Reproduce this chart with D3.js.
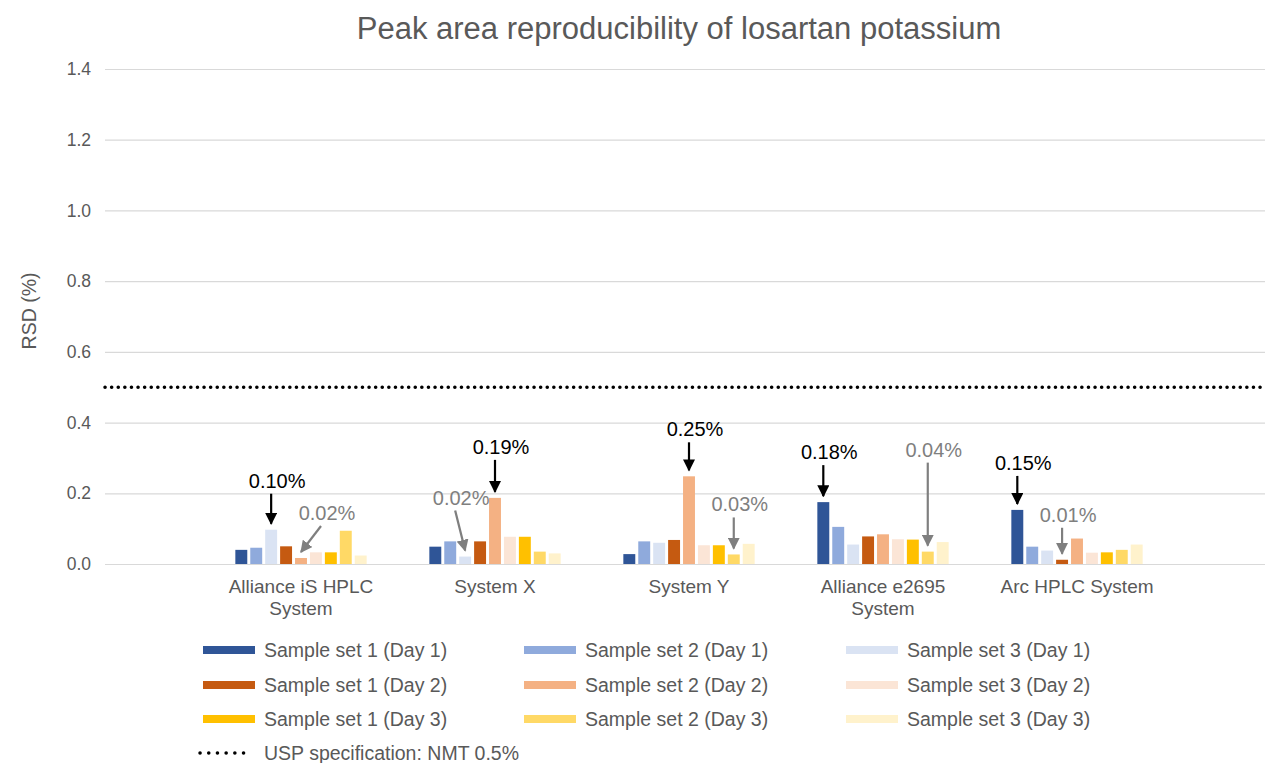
<!DOCTYPE html>
<html>
<head>
<meta charset="utf-8">
<script src="https://cdn.jsdelivr.net/npm/d3@7"></script>
<style>
  body { margin: 0; background: #fff; }
  svg { font-family: "Liberation Sans", Arial, sans-serif; }
</style>
</head>
<body>
<svg width="1265" height="763"></svg>
<script>
// categories and series
var systems = ['Alliance iS HPLC System', 'System X', 'System Y', 'Alliance e2695 System', 'Arc HPLC System'];
var systemLines = [['Alliance iS HPLC', 'System'], ['System X'], ['System Y'], ['Alliance e2695', 'System'], ['Arc HPLC System']];
var seriesNames = [
  'Sample set 1 (Day 1)', 'Sample set 2 (Day 1)', 'Sample set 3 (Day 1)',
  'Sample set 1 (Day 2)', 'Sample set 2 (Day 2)', 'Sample set 3 (Day 2)',
  'Sample set 1 (Day 3)', 'Sample set 2 (Day 3)', 'Sample set 3 (Day 3)'
];
var seriesColors = ['#2f5597', '#8faadc', '#dae3f3', '#c55a11', '#f4b183', '#fbe5d6', '#ffc000', '#ffd966', '#fff2cc'];

// RSD (%) per system, one value per series
var rsdAllianceIS = [0.040, 0.046, 0.097, 0.050, 0.017, 0.033, 0.033, 0.094, 0.024];
var rsdSystemX    = [0.049, 0.064, 0.021, 0.064, 0.187, 0.077, 0.077, 0.035, 0.030];
var rsdSystemY    = [0.028, 0.064, 0.060, 0.068, 0.248, 0.053, 0.053, 0.027, 0.057];
var rsdE2695      = [0.175, 0.105, 0.055, 0.078, 0.084, 0.070, 0.069, 0.035, 0.062];
var rsdArc        = [0.153, 0.049, 0.038, 0.012, 0.072, 0.032, 0.033, 0.040, 0.055];
var rsdValues = [rsdAllianceIS, rsdSystemX, rsdSystemY, rsdE2695, rsdArc];

var yTicks = [0, 0.2, 0.4, 0.6, 0.8, 1.0, 1.2, 1.4];
var uspLimit = 0.5;

// max / min callouts: system index, series index, label
var callouts = [
  {sys: 0, ser: 2, text: '0.10%', kind: 'max'},
  {sys: 0, ser: 4, text: '0.02%', kind: 'min'},
  {sys: 1, ser: 4, text: '0.19%', kind: 'max'},
  {sys: 1, ser: 2, text: '0.02%', kind: 'min'},
  {sys: 2, ser: 4, text: '0.25%', kind: 'max'},
  {sys: 2, ser: 7, text: '0.03%', kind: 'min'},
  {sys: 3, ser: 0, text: '0.18%', kind: 'max'},
  {sys: 3, ser: 7, text: '0.04%', kind: 'min'},
  {sys: 4, ser: 0, text: '0.15%', kind: 'max'},
  {sys: 4, ser: 3, text: '0.01%', kind: 'min'}
];
// arrow start relative to arrow tip [dx, dy]
var calloutArrow = [[0, -30], [20, -26], [0, -32], [-10, -40], [0, -28], [0, -31], [0, -31], [0, -83], [0, -28], [0, -26]];

var svg = d3.select('svg');
var left = 105, right = 1265;

var y = d3.scaleLinear().domain([0, 1.4]).range([564, 69]);
var x0 = d3.scaleBand().domain(systems).range([204, 1174]);
var x1 = d3.scaleBand().domain(d3.range(seriesNames.length))
    .range([0, x0.bandwidth()]).paddingInner(0.2).paddingOuter(2.1);

// title
svg.append('text')
    .attr('x', 679).attr('y', 39)
    .attr('text-anchor', 'middle')
    .style('font-size', '31px').style('fill', '#595959')
    .text('Peak area reproducibility of losartan potassium');

// gridlines + y axis
var yAxis = d3.axisLeft(y).tickValues(yTicks).tickFormat(d3.format('.1f'))
    .tickSize(-(right - left)).tickPadding(14);
var gy = svg.append('g').attr('transform', 'translate(' + left + ',0)').call(yAxis);
gy.select('.domain').remove();
gy.selectAll('.tick line').attr('stroke', '#d9d9d9').attr('stroke-width', 1.2);
gy.selectAll('.tick text').style('font-size', '17.5px').style('fill', '#595959')
    .style('font-family', '"Liberation Sans", Arial, sans-serif');

svg.append('text')
    .attr('transform', 'translate(36,311) rotate(-90)')
    .attr('text-anchor', 'middle')
    .style('font-size', '19.5px').style('fill', '#595959')
    .text('RSD (%)');

// bars
var groups = svg.selectAll('g.sys')
    .data(rsdValues)
    .enter().append('g')
    .attr('class', 'sys')
    .attr('transform', (d, i) => 'translate(' + x0(systems[i]) + ',0)');
groups.selectAll('rect')
    .data(d => d)
    .enter().append('rect')
    .attr('x', (d, i) => x1(i))
    .attr('width', x1.bandwidth())
    .attr('y', d => y(d))
    .attr('height', d => y(0) - y(d))
    .attr('fill', (d, i) => seriesColors[i]);

// category labels
systemLines.forEach(function(lines, i) {
  var cx = x0(systems[i]) + x0.bandwidth() / 2;
  var t = svg.append('text')
      .attr('x', cx)
      .attr('y', 593)
      .attr('text-anchor', 'middle')
      .style('font-size', '19px').style('fill', '#595959');
  lines.forEach(function(l, j) {
    t.append('tspan').attr('x', cx).attr('dy', j ? 22 : 0).text(l);
  });
});

// USP limit
svg.append('line')
    .attr('x1', left).attr('x2', right)
    .attr('y1', y(uspLimit)).attr('y2', y(uspLimit))
    .attr('stroke', '#000').attr('stroke-width', 3.5)
    .attr('stroke-linecap', 'round').attr('stroke-dasharray', '0.1 6.5');

// arrow markers
var defs = svg.append('defs');
[['max', '#000'], ['min', '#7f7f7f']].forEach(function(m) {
  defs.append('marker')
      .attr('id', 'arr-' + m[0])
      .attr('viewBox', '0 0 10 10').attr('refX', 9).attr('refY', 5)
      .attr('markerWidth', 5.5).attr('markerHeight', 5.5)
      .attr('markerUnits', 'strokeWidth')
      .attr('orient', 'auto')
      .append('path').attr('d', 'M0,0 L10,5 L0,10 Z').attr('fill', m[1]);
});

callouts.forEach(function(c, i) {
  var col = c.kind === 'max' ? '#000' : '#7f7f7f';
  var tipX = x0(systems[c.sys]) + x1(c.ser) + x1.bandwidth() / 2;
  var tipY = y(rsdValues[c.sys][c.ser]) - 6;
  var off = calloutArrow[i];
  var sx = tipX + off[0], sy = tipY + off[1];
  svg.append('line')
      .attr('x1', sx).attr('y1', sy).attr('x2', tipX).attr('y2', tipY)
      .attr('stroke', col).attr('stroke-width', 2.2)
      .attr('marker-end', 'url(#arr-' + c.kind + ')');
  svg.append('text')
      .attr('x', sx + 6).attr('y', sy - 6)
      .attr('text-anchor', 'middle')
      .style('font-size', '20px').style('fill', col)
      .text(c.text);
});

// legend
var legCols = [203, 524, 846];
var legRows = [650, 685, 719];
seriesNames.forEach(function(name, i) {
  var cx = legCols[i % 3], cy = legRows[Math.floor(i / 3)];
  svg.append('line')
      .attr('x1', cx).attr('x2', cx + 52).attr('y1', cy).attr('y2', cy)
      .attr('stroke', seriesColors[i]).attr('stroke-width', 8);
  svg.append('text')
      .attr('x', cx + 61).attr('y', cy + 7)
      .style('font-size', '19.5px').style('fill', '#595959')
      .text(name);
});
svg.append('line')
    .attr('x1', 200).attr('x2', 252).attr('y1', 753).attr('y2', 753)
    .attr('stroke', '#000').attr('stroke-width', 3.5)
    .attr('stroke-linecap', 'round').attr('stroke-dasharray', '0.1 8.6');
svg.append('text')
    .attr('x', 264).attr('y', 760)
    .style('font-size', '19.5px').style('fill', '#595959')
    .text('USP specification: NMT 0.5%');
</script>
</body>
</html>
